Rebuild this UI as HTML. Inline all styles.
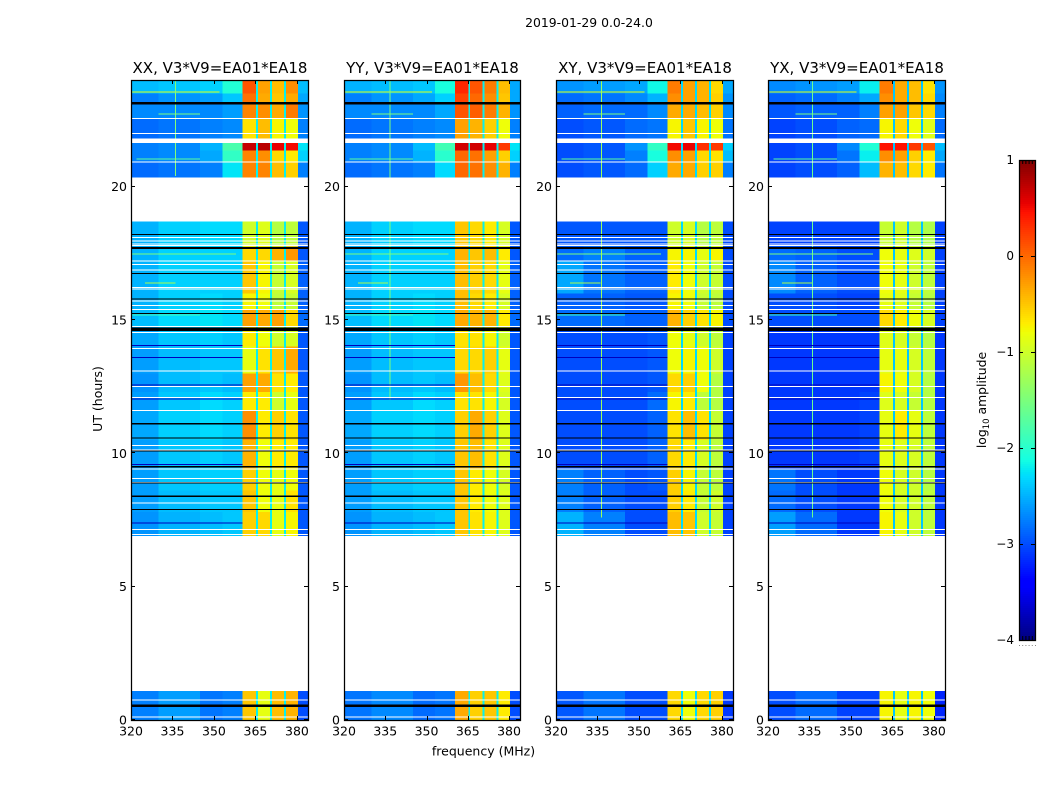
<!DOCTYPE html>
<html><head><meta charset="utf-8"><title>2019-01-29 0.0-24.0</title>
<style>html,body{margin:0;padding:0;background:#fff}svg{display:block}text{font-family:"DejaVu Sans","Liberation Sans",sans-serif;fill:#000}</style></head>
<body>
<svg id="chart" width="1050" height="800" viewBox="0 0 1050 800" xmlns="http://www.w3.org/2000/svg">
<text x="589" y="27" font-size="12.4" text-anchor="middle">2019-01-29 0.0-24.0</text>
<text x="483.5" y="755.5" font-size="12.5" text-anchor="middle">frequency (MHz)</text>
<text transform="translate(102,399) rotate(-90)" font-size="12.5" text-anchor="middle">UT (hours)</text>
<text transform="translate(986,400) rotate(-90)" font-size="12.4" text-anchor="middle">log<tspan font-size="8.5" dy="3">10</tspan><tspan dy="-3"> amplitude</tspan></text>
</svg>
<script>
const panelNames = ['XX','YY','XY','YX'];
const panelTitleSuffix = ', V3*V9=EA01*EA18';
const freqTicks = [320,335,350,365,380];
const utTicks = [0,5,10,15,20];
const colorTicks = [1,0,-1,-2,-3,-4];
const freqEdges = [320,330,345,353,360.4,365.9,371,376.1,380.3,384];
const gapWidthMHz = [0.7];
const rowStarts = [0,6.9,7.8,8.6,9.4,10.5,11.6,12.3,13,14,14.75,15.4,16,17.2,17.75,20.35,20.9,21.35,21.8,22.55,23.1,23.5];
const rowEnds = [1.09,7.8,8.6,9.4,10.5,11.6,12.3,13,14,14.75,15.4,16,17.2,17.75,18.7,20.9,21.35,21.65,22.55,23.1,23.5,24];
const gapLevels = [-2.2,-2.2,-2.3,-2.4];
const xxLevels = [
[-2.75,-2.6,-2.8,-2.75,-.5,-.85,-.45,-.4,-3],
[-2.65,-2.5,-2.45,-2.4,-.55,-.6,-.85,-.75,-2.95],
[-2.6,-2.45,-2.4,-2.4,-.5,-.8,-.85,-.65,-2.95],
[-2.6,-2.4,-2.35,-2.35,-.55,-.8,-.85,-.8,-2.95],
[-2.6,-2.4,-2.35,-2.4,-.4,-.8,-.7,-.7,-2.95],
[-2.55,-2.35,-2.3,-2.35,-.2,-.7,-.55,-.65,-2.95],
[-2.6,-2.4,-2.3,-2.35,-.7,-.7,-1,-.85,-2.95],
[-2.65,-2.45,-2.4,-2.45,-.3,-.35,-.65,-.7,-2.95],
[-2.6,-2.45,-2.4,-2.4,-.85,-.65,-.5,-.35,-2.95],
[-2.55,-2.4,-2.35,-2.4,-.7,-.8,-1,-.95,-2.95],
[-2.45,-2.3,-2.25,-2.3,-.3,-.35,-.3,-.6,-2.85],
[-2.5,-2.35,-2.3,-2.35,-.75,-.8,-1.1,-1.05,-2.9],
[-2.5,-2.35,-2.35,-2.35,-.5,-.75,-1.05,-.95,-2.9],
[-2.5,-2.35,-2.35,-2.35,-.6,-.6,-.4,-.25,-2.95],
[-2.5,-2.35,-2.3,-2.3,-1,-.9,-1.15,-1.1,-2.95],
[-2.85,-2.8,-2.75,-2.25,-.15,-.15,-.45,-.55,-2.75],
[-2.75,-2.7,-2.55,-1.95,-.15,-.2,-.6,-.7,-2.35],
[-2.75,-2.7,-2.5,-1.8,.7,.75,.55,.5,-2.25],
[-2.85,-2.8,-2.75,-2.7,-.65,-.45,-.75,-.8,-2.75],
[-2.7,-2.7,-2.7,-2.6,-.15,-.2,-.35,-.1,-2.65],
[-2.75,-2.65,-2.6,-2.4,-.05,-.35,-.5,-.35,-2.55],
[-2.45,-2.4,-2.35,-2.05,.1,-.3,-.45,-.2,-2.45]];
const yyLevels = [
[-2.8,-2.7,-2.85,-2.8,-.35,-.55,-.5,-.7,-3],
[-2.65,-2.5,-2.45,-2.4,-.5,-.65,-.75,-.9,-2.95],
[-2.6,-2.45,-2.4,-2.4,-.5,-.7,-.8,-.9,-2.95],
[-2.6,-2.4,-2.35,-2.35,-.5,-.7,-.8,-.95,-2.95],
[-2.6,-2.4,-2.35,-2.4,-.5,-.45,-.65,-.9,-2.95],
[-2.55,-2.35,-2.3,-2.35,-.55,-.35,-.55,-.9,-2.95],
[-2.6,-2.4,-2.3,-2.35,-.65,-.65,-.75,-.95,-2.95],
[-2.65,-2.45,-2.4,-2.45,-.25,-.45,-.6,-.9,-2.95],
[-2.6,-2.45,-2.4,-2.4,-.6,-.6,-.55,-.85,-2.95],
[-2.55,-2.4,-2.35,-2.4,-.65,-.65,-.75,-1,-2.95],
[-2.45,-2.3,-2.25,-2.3,-.35,-.4,-.4,-.7,-2.85],
[-2.5,-2.35,-2.3,-2.35,-.45,-.6,-.7,-.95,-2.9],
[-2.5,-2.35,-2.35,-2.35,-.45,-.55,-.6,-.85,-2.9],
[-2.5,-2.35,-2.35,-2.35,-.4,-.5,-.45,-.7,-2.95],
[-2.5,-2.35,-2.3,-2.3,-.5,-.6,-.7,-.95,-2.95],
[-2.85,-2.8,-2.75,-2.3,0,-.05,-.2,-.4,-2.75],
[-2.75,-2.7,-2.5,-2,0,-.05,-.3,-.55,-2.35],
[-2.75,-2.7,-2.45,-1.85,.65,.65,.55,.25,-2.25],
[-2.85,-2.8,-2.75,-2.7,-.3,-.4,-.55,-.8,-2.75],
[-2.7,-2.7,-2.7,-2.55,.1,.05,-.1,-.4,-2.65],
[-2.75,-2.65,-2.55,-2.35,.2,0,-.2,-.5,-2.55],
[-2.5,-2.45,-2.4,-2.1,.35,.1,-.1,-.45,-2.55]];
const xyLevels = [
[-2.95,-2.8,-3,-3,-.6,-.8,-.6,-.55,-3.1],
[-2.5,-2.75,-3,-3,-.45,-.5,-1,-1.05,-3.05],
[-2.75,-2.9,-3,-3,-.55,-.7,-1.05,-1,-3.05],
[-2.75,-2.9,-3,-2.95,-.55,-.75,-1.05,-1.1,-3.05],
[-3,-3,-3,-2.9,-.6,-.7,-.95,-1.1,-3.05],
[-3,-3,-3,-2.9,-.65,-.45,-.65,-1.05,-3.05],
[-3,-3,-3,-2.85,-.75,-.7,-1.1,-1.15,-3.05],
[-3,-3,-3,-2.95,-.6,-.55,-.8,-1.15,-3.05],
[-3,-3,-3,-2.95,-.8,-.75,-.8,-1,-3.05],
[-3,-3,-3,-2.95,-.8,-.85,-1,-1.1,-3.05],
[-2.85,-2.85,-2.9,-2.9,-.4,-.55,-.65,-.75,-3],
[-2.9,-2.9,-2.95,-2.95,-.75,-.8,-1.05,-1.1,-3],
[-2.55,-2.8,-2.9,-2.9,-.7,-.8,-1,-1.05,-3],
[-2.85,-2.75,-2.9,-2.9,-.75,-.75,-.85,-.75,-3],
[-2.95,-2.95,-2.95,-2.95,-1,-.95,-1.15,-1.1,-3],
[-3,-2.95,-2.85,-2.35,-.35,-.35,-.55,-.55,-2.75],
[-3,-2.95,-2.75,-2.1,-.2,-.3,-.6,-.65,-2.45],
[-3,-2.95,-2.65,-1.95,.5,.55,.3,.25,-2.35],
[-3,-2.95,-2.85,-2.8,-.75,-.5,-.75,-.8,-2.8],
[-2.9,-2.85,-2.85,-2.7,-.35,-.35,-.45,-.55,-2.7],
[-2.85,-2.8,-2.7,-2.5,-.2,-.3,-.4,-.55,-2.65],
[-2.65,-2.6,-2.55,-2.15,-.1,-.3,-.4,-.6,-2.55]];
const yxLevels = [
[-3,-2.85,-3.05,-3.05,-.75,-.85,-.75,-.8,-3.2],
[-2.6,-2.85,-3.1,-3.1,-.75,-.85,-1,-1.1,-3.1],
[-2.85,-3,-3.1,-3.1,-.8,-.95,-1,-1.1,-3.1],
[-2.8,-3,-3.1,-3.1,-.8,-.95,-1,-1.15,-3.1],
[-3.1,-3.1,-3.1,-3.05,-.85,-.9,-.95,-1.1,-3.1],
[-3.1,-3.1,-3.1,-3.05,-.85,-.7,-.85,-1.1,-3.1],
[-3.1,-3.1,-3.1,-3.05,-.9,-.95,-1.05,-1.15,-3.1],
[-3.1,-3.1,-3.1,-3.1,-.75,-.8,-.95,-1.15,-3.1],
[-3.1,-3.1,-3.1,-3.1,-.85,-.85,-.95,-1.1,-3.1],
[-3.1,-3.1,-3.1,-3.1,-.9,-.95,-1.05,-1.15,-3.1],
[-3,-3,-3,-3,-.6,-.7,-.8,-.95,-3.05],
[-3,-3,-3.05,-3.05,-.85,-.9,-1.05,-1.15,-3.05],
[-2.7,-2.9,-3,-3,-.8,-.85,-1,-1.1,-3.05],
[-2.85,-2.9,-3,-3,-.8,-.85,-.9,-1,-3.05],
[-3.05,-3.05,-3.05,-3.05,-1.05,-1,-1.15,-1.2,-3.05],
[-3.05,-3,-2.9,-2.45,-.4,-.45,-.6,-.7,-2.8],
[-3.05,-3,-2.8,-2.2,-.2,-.3,-.55,-.7,-2.55],
[-3.05,-3,-2.7,-2.05,.45,.45,.25,.1,-2.45],
[-3.05,-3,-2.9,-2.85,-.75,-.6,-.8,-.9,-2.85],
[-2.95,-2.9,-2.9,-2.75,-.3,-.3,-.5,-.6,-2.75],
[-2.9,-2.85,-2.75,-2.55,-.2,-.35,-.45,-.6,-2.7],
[-2.7,-2.65,-2.6,-2.2,-.1,-.35,-.45,-.65,-2.65]];
const panelLevels = [xxLevels,yyLevels,xyLevels,yxLevels];
const whiteFlagUt = [21.72,22.56,22,20.93,18.1,17.97,17.85,17.79,17.22,17.09,16.875,16.22,16.16,15.71,15.55,15.4,14.75,14.54,13.94,13.09,12.5,12.09,11.6,10.3,10.12,9.41,9.05,8.91,8.13,7.15,6.96,0.76,0.12];
const blackFlagUt = [23.13,18.21,17.7,16.75,15.79,15.24,14.65,11.11,10.58,10.08,9.5,8.88,8.39,7.9,0.54];
const blackFlagHours = [.09,.04,.06,.04,.04,.04,.12,.04,.04,.04,.06,.04,.04,.04,.09];
const dimFlagUt = [14.05,13.59,12.56,12.04,9.58,7.4];
const rfiLineUt = [23.55,22.72,22,21.05,17.47,16.4,15.2];
const rfiLineStart = [320,330,345,322,320,325,320];
const rfiLineEnd = [352,345,355,345,358,336,345];
const rfiLineLevel = [-.9,-1.5,-1.4,-1.7,-1.5,-1.2,-1.9];
const rfiChannelMHz = [335.9,336.6,336.2,335.9];
const rfiChannelLevel = [-1.45,-1.5,-1.3,-1.6];
const rfiChannelStart = [20.4,12,7.6,7.6];
const rfiChannelEnd = [24,24,24,24];

const NS = 'http://www.w3.org/2000/svg';
const svg = document.getElementById('chart');
const panelLeft = [131,344,556,768];
const panelWidths = [177,176,177,177];
const axisTop = 80, axisH = 640;
let panelW = 177;
function xOf(f, left){ return left + (f-320)/(384-320)*panelW; }
function yOf(u){ return axisTop + axisH - u/24*axisH; }
function jetPart(t, pts){ for(let i=1;i<pts.length;i++){ if(t<=pts[i][0]){ const a=pts[i-1],b=pts[i]; return a[1]+(b[1]-a[1])*(t-a[0])/(b[0]-a[0]); } } return pts[pts.length-1][1]; }
function jet(v){ const t=Math.max(0,Math.min(1,(v+4)/5));
 const r=jetPart(t,[[0,0],[.35,0],[.66,1],[.89,1],[1,.5]]);
 const g=jetPart(t,[[0,0],[.125,0],[.375,1],[.64,1],[.91,0],[1,0]]);
 const b=jetPart(t,[[0,.5],[.11,1],[.34,1],[.65,0],[1,0]]);
 return 'rgb('+Math.round(r*255)+','+Math.round(g*255)+','+Math.round(b*255)+')'; }
function mk(tag, attrs, parent){ const e=document.createElementNS(NS,tag); for(const k in attrs) e.setAttribute(k,attrs[k]); (parent||svg).appendChild(e); return e; }
function cell(g,x0,x1,u0,u1,fill){ const y0=yOf(u1), y1=yOf(u0);
 return mk('rect',{x:x0.toFixed(2),y:y0.toFixed(2),width:Math.max(1,x1-x0).toFixed(2),height:Math.max(1,y1-y0).toFixed(2),fill:fill,'shape-rendering':'crispEdges'},g); }

panelNames.forEach(function(name,p){
 const left = panelLeft[p];
 panelW = panelWidths[p];
 const key = name.toLowerCase();
 const g = mk('g',{});
 
 
 const levels = panelLevels[p];
 levels.forEach(function(row,r){
  row.forEach(function(v,c){
   const rect = cell(g,xOf(freqEdges[c],left),xOf(freqEdges[c+1],left),rowStarts[r],rowEnds[r],jet(v));
   
   
  });
  [4,5,6].forEach(function(c){
   const e = freqEdges[c+1];
   const gap = cell(g,xOf(e-gapWidthMHz[0],left),xOf(e,left),rowStarts[r],rowEnds[r],jet(gapLevels[p]));
   
   
  });
 });
 rfiLineUt.forEach(function(u,i){
  const l = cell(g,xOf(rfiLineStart[i],left),xOf(rfiLineEnd[i],left),u-.015,u+.015,jet(rfiLineLevel[i]));
  
  
 });
 rowStarts.forEach(function(s,r){
  const u0 = Math.max(s,rfiChannelStart[p]);
  if(u0 >= rowEnds[r]) return;
  const c = cell(g,xOf(rfiChannelMHz[p],left),xOf(rfiChannelMHz[p],left)+1,u0,rowEnds[r],jet(rfiChannelLevel[p]));
  
  
 });
 dimFlagUt.forEach(function(u){
  const d = cell(g,xOf(320,left),xOf(360.4,left),u-.015,u+.015,'rgb(0,0,190)');
  
  
 });
 whiteFlagUt.forEach(function(u,i){
  const w = cell(g,left,left+panelW,u-(i===0?.08:.018),u+(i===0?.08:.018),'#fff');
  
  
 });
 blackFlagUt.forEach(function(u,i){
  const b = cell(g,left,left+panelW,u-blackFlagHours[i]/2,u+blackFlagHours[i]/2,'#000');
  
  
 });
 const frame = mk('rect',{x:left+.5,y:axisTop+.5,width:panelW,height:axisH,fill:'none',stroke:'#000','stroke-width':1.25});
 
 
 const title = mk('text',{x:left+panelW/2+.5,y:73,'font-size':15,'text-anchor':'middle'});
 title.textContent = name+panelTitleSuffix;
 
 
 freqTicks.forEach(function(f){
  const x = Math.round(xOf(f,left))+.5;
  const t1 = mk('line',{x1:x,x2:x,y1:720,y2:716,stroke:'#000'});
  
  
  const t2 = mk('line',{x1:x,x2:x,y1:80,y2:84,stroke:'#000'});
  
  
  const lab = mk('text',{x:xOf(f,left),y:735.5,'font-size':12.5,'text-anchor':'middle'});
  lab.textContent = f;
  
  
 });
 utTicks.forEach(function(u){
  const y = Math.round(yOf(u))-.5;
  const t1 = mk('line',{x1:left,x2:left+4,y1:y,y2:y,stroke:'#000'});
  
  
  const t2 = mk('line',{x1:left+panelW,x2:left+panelW-4,y1:y,y2:y,stroke:'#000'});
  
  
  const lab = mk('text',{x:left-4,y:yOf(u)+4.5,'font-size':12.5,'text-anchor':'end'});
  lab.textContent = u;
  
  
 });
});

const barX = 1019, barW = 16, barTop = 160, barH = 480;
function barY(v){ return barTop + (1-v)/5*barH; }
const colorbar = mk('g',{});


for(let i=0;i<240;i++){
 const v0 = 1-i*5/240;
 const seg = mk('rect',{x:barX,y:(barTop+i*2),width:barW,height:2,fill:jet(v0-5/480),'shape-rendering':'crispEdges'},colorbar);
 
 
}
const barFrame = mk('rect',{x:barX+.5,y:barTop+.5,width:barW,height:barH,fill:'none',stroke:'#000','stroke-width':1.25});


colorTicks.forEach(function(v){
 const y = Math.round(barY(v))+.5;
 const a = mk('line',{x1:barX,x2:barX+4,y1:y,y2:y,stroke:'#000'});
 
 
 const b = mk('line',{x1:barX+barW,x2:barX+barW-4,y1:y,y2:y,stroke:'#000'});
 
 
 const lab = mk('text',{x:barX-5,y:barY(v)+4,'font-size':12,'text-anchor':'end'});
 lab.textContent = v<0 ? '\u2212'+Math.abs(v) : String(v);
 
 
});
for(let i=0;i<6;i++){
 const x = barX+.5+i*3.2;
 const t = mk('line',{x1:x,x2:x,y1:160,y2:164,stroke:'#000'});
 
 
 const u = mk('line',{x1:x,x2:x,y1:640,y2:636,stroke:'#000'});
 
 
 const d = mk('rect',{x:x-.5,y:645,width:1,height:1,fill:'#888'});
 
 
}
</script>
</body></html>
